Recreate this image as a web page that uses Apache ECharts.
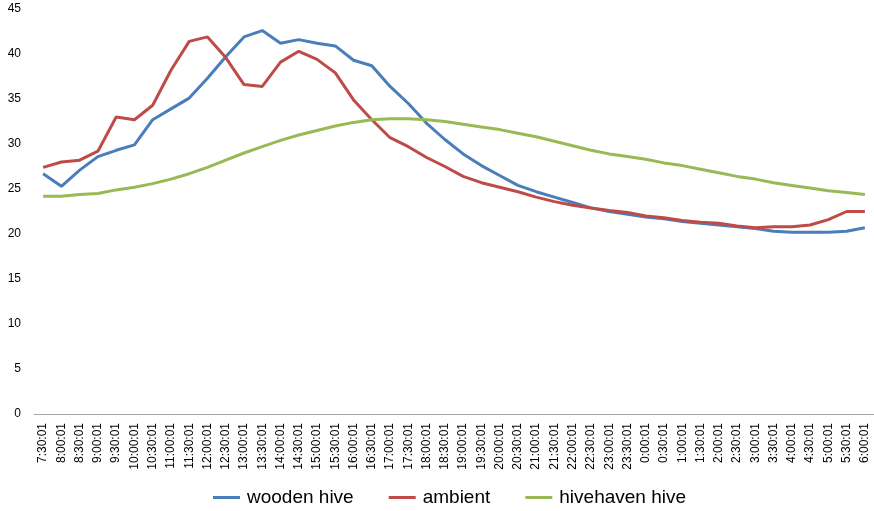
<!DOCTYPE html>
<html><head><meta charset="utf-8">
<script src="https://cdn.jsdelivr.net/npm/echarts@6/dist/echarts.min.js"></script>
<style>html,body{margin:0;padding:0;background:#fff}#c{width:874px;height:511px}</style>
</head><body><div id="c"></div>
<script>
const categories = ["7:30:01","8:00:01","8:30:01","9:00:01","9:30:01","10:00:01","10:30:01","11:00:01","11:30:01","12:00:01","12:30:01","13:00:01","13:30:01","14:00:01","14:30:01","15:00:01","15:30:01","16:00:01","16:30:01","17:00:01","17:30:01","18:00:01","18:30:01","19:00:01","19:30:01","20:00:01","20:30:01","21:00:01","21:30:01","22:00:01","22:30:01","23:00:01","23:30:01","0:00:01","0:30:01","1:00:01","1:30:01","2:00:01","2:30:01","3:00:01","3:30:01","4:00:01","4:30:01","5:00:01","5:30:01","6:00:01"];
const woodenHive = [26.7,25.3,27.1,28.6,29.3,29.9,32.7,33.9,35.1,37.3,39.7,41.9,42.6,41.2,41.6,41.2,40.9,39.3,38.7,36.4,34.5,32.3,30.5,28.9,27.6,26.5,25.4,24.7,24.1,23.5,22.9,22.5,22.2,21.9,21.7,21.4,21.2,21.0,20.8,20.6,20.3,20.2,20.2,20.2,20.3,20.7];
const ambient = [27.4,28.0,28.2,29.2,33.0,32.7,34.3,38.2,41.4,41.9,39.6,36.6,36.4,39.1,40.3,39.4,37.9,34.9,32.7,30.7,29.7,28.5,27.5,26.4,25.7,25.2,24.7,24.1,23.6,23.2,22.9,22.6,22.4,22.0,21.8,21.5,21.3,21.2,20.9,20.7,20.8,20.8,21.0,21.6,22.5,22.5];
const hivehavenHive = [24.2,24.2,24.4,24.5,24.9,25.2,25.6,26.1,26.7,27.4,28.2,29.0,29.7,30.4,31.0,31.5,32.0,32.4,32.7,32.8,32.8,32.7,32.5,32.2,31.9,31.6,31.2,30.8,30.3,29.8,29.3,28.9,28.6,28.3,27.9,27.6,27.2,26.8,26.4,26.1,25.7,25.4,25.1,24.8,24.6,24.4];
const seriesNames = ["wooden hive","ambient","hivehaven hive"];
const colors = ["#4A7EBB","#BE4B48","#98B954"];
const font = "Liberation Sans, Arial, sans-serif";
const chart = echarts.init(document.getElementById('c'));
chart.setOption({
  animation:false,
  color: colors,
  grid:{left:34,right:-4,top:9,bottom:97,containLabel:false},
  legend:{top:483,left:208,itemWidth:27,itemHeight:3,itemGap:35,icon:'rect',
    textStyle:{fontFamily:font,fontSize:19,color:'#000',padding:[0,0,0,2]},data:seriesNames},
  xAxis:{type:'category',data:categories,boundaryGap:true,
    axisLine:{lineStyle:{color:'#A6A6A6',width:1}},axisTick:{show:false},
    axisLabel:{rotate:90,interval:0,fontFamily:font,fontSize:12,color:'#000',margin:9}},
  yAxis:{type:'value',min:0,max:45,interval:5,
    axisLine:{show:false},axisTick:{show:false},splitLine:{show:false},
    axisLabel:{fontFamily:font,fontSize:12,color:'#000',margin:13}},
  series:[
    {name:seriesNames[0],type:'line',data:woodenHive,symbol:'none',lineStyle:{width:3}},
    {name:seriesNames[1],type:'line',data:ambient,symbol:'none',lineStyle:{width:3}},
    {name:seriesNames[2],type:'line',data:hivehavenHive,symbol:'none',lineStyle:{width:3}}
  ]
});
</script></body></html>
